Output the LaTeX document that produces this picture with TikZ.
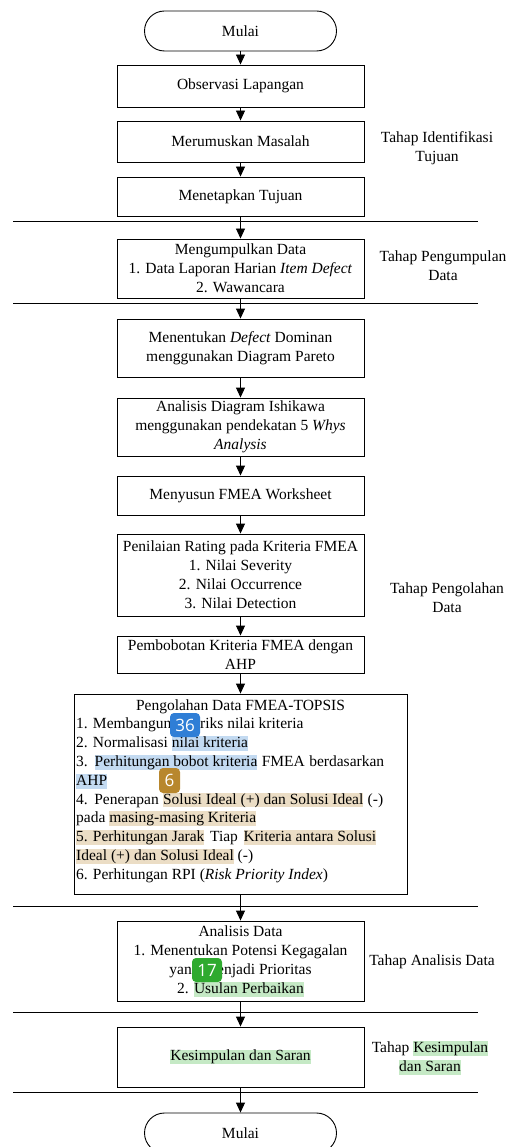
\documentclass[tikz,border=0pt]{standalone}
\usepackage{fontspec}
\setmainfont{Liberation Serif}
\newfontfamily\badgefont{Open Sans}
\usetikzlibrary{arrows.meta}
\definecolor{hlblue}{HTML}{C3DAF1}
\definecolor{hltan}{HTML}{EBDDC5}
\definecolor{hlgreen}{HTML}{C5E9C5}
\definecolor{bblue}{HTML}{2F7ED6}
\definecolor{btan}{HTML}{B8872D}
\definecolor{bgreen}{HTML}{2FAA2F}
\newcommand\hlx[2]{{\setlength\fboxsep{0pt}\colorbox{#1}{\rule[-0.22em]{0pt}{0.95em}#2}}}
\begin{document}
\begin{tikzpicture}[x=1pt,y=-1pt,
  every node/.style={font=\fontsize{15.5}{19}\selectfont},
  box/.style={draw, line width=0.9pt, minimum width=247pt, inner sep=0pt, align=center},
  term/.style={draw, line width=0.9pt, rounded corners=20pt, minimum width=192pt, minimum height=40pt, inner sep=0pt},
  arr/.style={-{Triangle[width=9pt,length=10pt]}, line width=0.9pt},
  sep/.style={line width=0.9pt},
  lbl/.style={align=center, inner sep=0pt},
  ln/.style={anchor=base west, inner sep=0pt},
  badge/.style={fill=#1, rounded corners=4pt, text=white, inner sep=0pt, font=\badgefont\fontsize{17}{17}\selectfont}
]
\useasboundingbox (0,0) rectangle (508,1147);

% terminals and boxes
\node[term] (start) at (240.5,31) {Mulai};
\node[box, minimum height=42pt] (b1) at (240.5,86) {Observasi Lapangan};
\node[box, minimum height=41pt] (b2) at (240.5,141.5) {Merumuskan Masalah};
\node[box, minimum height=39pt] (b3) at (240.5,196.5) {Menetapkan Tujuan};
\node[box, minimum height=59pt] (b4) at (240.5,268.5) {Mengumpulkan Data\\1. Data Laporan Harian \textit{Item Defect}\\2. Wawancara};
\node[box, minimum height=58pt] (b5) at (240.5,348) {Menentukan \textit{Defect} Dominan\\menggunakan Diagram Pareto};
\node[box, minimum height=58pt] (b6) at (240.5,427) {Analisis Diagram Ishikawa\\menggunakan pendekatan 5 \textit{Whys}\\\textit{Analysis}};
\node[box, minimum height=39pt] (b7) at (240.5,495.5) {Menyusun FMEA Worksheet};
\node[box, minimum height=82pt] (b8) at (240.5,575) {Penilaian Rating pada Kriteria FMEA\\1. Nilai Severity\\2. Nilai Occurrence\\3. Nilai Detection};
\node[box, minimum height=37pt] (b9) at (240.5,654.5) {Pembobotan Kriteria FMEA dengan\\AHP};
\node[box, minimum width=333pt, minimum height=200pt] (b10) at (240.5,794) {};
\node[box, minimum height=80pt] (b11) at (240.5,961) {Analisis Data\\1. Menentukan Potensi Kegagalan\\yang Menjadi Prioritas\\2. \hlx{hlgreen}{Usulan Perbaikan}};
\node[box, minimum height=60pt] (b12) at (240.5,1057) {\hlx{hlgreen}{Kesimpulan dan Saran}};
\node[term] (end) at (240.5,1133) {Mulai};

% TOPSIS box text
\node[inner sep=0pt, anchor=base] (t0) at (240.5,710) {Pengolahan Data FMEA-TOPSIS};
\node[ln] (t1) at (76,728.8) {1. Membangun Matriks nilai kriteria};
\node[ln] (t2) at (76,747.6) {2. Normalisasi \hlx{hlblue}{nilai kriteria}};
\node[ln] (t3) at (76,766.4) {\makebox[308pt][s]{3. \hlx{hlblue}{Perhitungan bobot kriteria} FMEA berdasarkan}};
\node[ln] (t4) at (76,785.2) {\hlx{hlblue}{AHP}};
\node[ln] (t5) at (76,804) {\makebox[307pt][s]{4. Penerapan \hlx{hltan}{Solusi Ideal (+) dan Solusi Ideal} (-)}};
\node[ln] (t6) at (76,822.8) {pada \hlx{hltan}{masing-masing Kriteria}};
\node[ln] (t7) at (76,841.6) {\makebox[300pt][s]{\hlx{hltan}{5. Perhitungan Jarak} Tiap \hlx{hltan}{Kriteria antara Solusi}}};
\node[ln] (t8) at (76,860.4) {\hlx{hltan}{Ideal (+) dan Solusi Ideal} (-)};
\node[ln] (t9) at (76,879.2) {6. Perhitungan RPI (\textit{Risk Priority Index})};

% badges
\node[badge=bblue, minimum width=30pt, minimum height=24pt] (k36) at (185,725) {36};
\node[badge=btan, minimum width=21pt, minimum height=25pt] (k6) at (169.5,780.5) {6};
\node[badge=bgreen, minimum width=30pt, minimum height=24pt] (k17) at (207,970) {17};

% stage labels
\node[lbl] (L1) at (437,148) {Tahap Identifikasi\\Tujuan};
\node[lbl] (L2) at (443,266) {Tahap Pengumpulan\\Data};
\node[lbl] (L3) at (447,598) {Tahap Pengolahan\\Data};
\node[lbl] (L4) at (432,962) {Tahap Analisis Data};
\node[lbl] (L5) at (430,1058) {Tahap \hlx{hlgreen}{Kesimpulan}\\\hlx{hlgreen}{dan Saran}};

% separator lines
\foreach \i/\yy in {1/221.5, 2/303, 3/906, 4/1012, 5/1092}{
  \coordinate (s\i l) at (13,\yy);
  \coordinate (s\i r) at (478,\yy);
  \draw[sep] (s\i l) -- (s\i r);
}

% connectors
\draw[arr] (start) -- (b1);
\draw[arr] (b1) -- (b2);
\draw[arr] (b2) -- (b3);
\draw[arr] (b3) -- (b4);
\draw[arr] (b4) -- (b5);
\draw[arr] (b5) -- (b6);
\draw[arr] (b6) -- (b7);
\draw[arr] (b7) -- (b8);
\draw[arr] (b8) -- (b9);
\draw[arr] (b9) -- (b10);
\draw[arr] (b10) -- (b11);
\draw[arr] (b11) -- (b12);
\draw[arr] (b12) -- (end);
\end{tikzpicture}
\end{document}
